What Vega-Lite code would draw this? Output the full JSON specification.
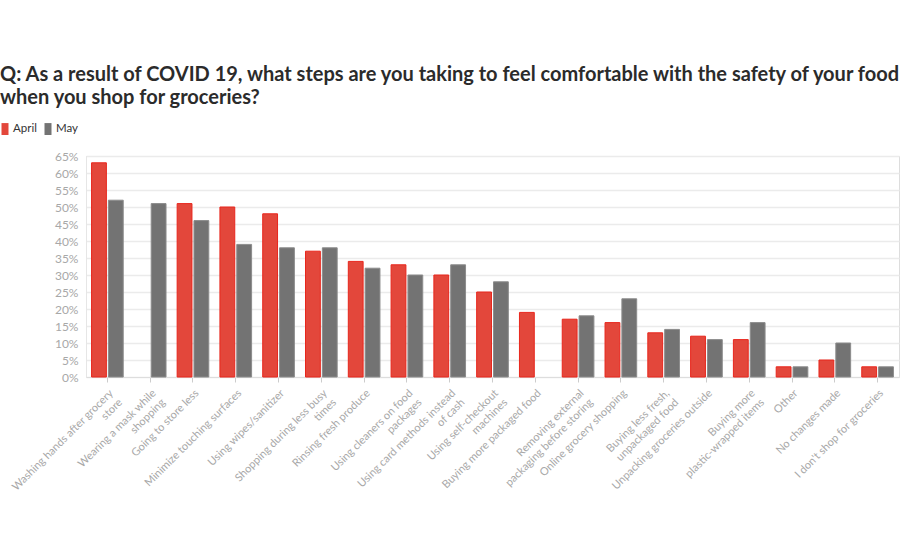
{
  "$schema": "https://vega.github.io/schema/vega-lite/v6.json",
  "width": 813,
  "height": 221,
  "autosize": {"type": "none"},
  "padding": {"left": 86, "top": 156, "right": 1, "bottom": 173},
  "background": "white",
  "title": {
    "text": ["Q: As a result of COVID 19, what steps are you taking to feel comfortable with the safety of your food", "when you shop for groceries?"],
    "anchor": "start",
    "frame": "group",
    "dx": -86,
    "offset": 14,
    "fontSize": 20,
    "font": "Lato",
    "fontWeight": "bold",
    "color": "#2b2b2b",
    "lineHeight": 23
  },
  "data": {
    "values": [
      {"step": "Washing hands after grocery|store", "month": "April", "pct": 63},
      {"step": "Washing hands after grocery|store", "month": "May", "pct": 52},
      {"step": "Wearing a mask while|shopping", "month": "May", "pct": 51},
      {"step": "Going to store less", "month": "April", "pct": 51},
      {"step": "Going to store less", "month": "May", "pct": 46},
      {"step": "Minimize touching surfaces", "month": "April", "pct": 50},
      {"step": "Minimize touching surfaces", "month": "May", "pct": 39},
      {"step": "Using wipes/sanitizer", "month": "April", "pct": 48},
      {"step": "Using wipes/sanitizer", "month": "May", "pct": 38},
      {"step": "Shopping during less busy|times", "month": "April", "pct": 37},
      {"step": "Shopping during less busy|times", "month": "May", "pct": 38},
      {"step": "Rinsing fresh produce", "month": "April", "pct": 34},
      {"step": "Rinsing fresh produce", "month": "May", "pct": 32},
      {"step": "Using cleaners on food|packages", "month": "April", "pct": 33},
      {"step": "Using cleaners on food|packages", "month": "May", "pct": 30},
      {"step": "Using card methods instead|of cash", "month": "April", "pct": 30},
      {"step": "Using card methods instead|of cash", "month": "May", "pct": 33},
      {"step": "Using self-checkout|machines", "month": "April", "pct": 25},
      {"step": "Using self-checkout|machines", "month": "May", "pct": 28},
      {"step": "Buying more packaged food", "month": "April", "pct": 19},
      {"step": "Removing external|packaging before storing", "month": "April", "pct": 17},
      {"step": "Removing external|packaging before storing", "month": "May", "pct": 18},
      {"step": "Online grocery shopping", "month": "April", "pct": 16},
      {"step": "Online grocery shopping", "month": "May", "pct": 23},
      {"step": "Buying less fresh,|unpackaged food", "month": "April", "pct": 13},
      {"step": "Buying less fresh,|unpackaged food", "month": "May", "pct": 14},
      {"step": "Unpacking groceries outside", "month": "April", "pct": 12},
      {"step": "Unpacking groceries outside", "month": "May", "pct": 11},
      {"step": "Buying more|plastic-wrapped items", "month": "April", "pct": 11},
      {"step": "Buying more|plastic-wrapped items", "month": "May", "pct": 16},
      {"step": "Other", "month": "April", "pct": 3},
      {"step": "Other", "month": "May", "pct": 3},
      {"step": "No changes made", "month": "April", "pct": 5},
      {"step": "No changes made", "month": "May", "pct": 10},
      {"step": "I don't shop for groceries", "month": "April", "pct": 3},
      {"step": "I don't shop for groceries", "month": "May", "pct": 3}
    ]
  },
  "mark": {"type": "bar", "strokeWidth": 1},
  "encoding": {
    "x": {
      "field": "step",
      "type": "nominal",
      "sort": null,
      "scale": {"paddingInner": 0.26, "paddingOuter": 0.13},
      "axis": {
        "title": null,
        "labelAngle": -45,
        "labelAlign": "right",
        "labelBaseline": "top",
        "labelExpr": "split(datum.label, '|')",
        "labelColor": "#a8a8a8",
        "labelFontSize": 11,
        "labelLineHeight": 13,
        "labelFont": "Lato",
        "labelLimit": 0,
        "labelPadding": 5,
        "domainColor": "#dddddd",
        "tickColor": "#cccccc",
        "tickSize": 5
      }
    },
    "xOffset": {
      "field": "month",
      "type": "nominal",
      "sort": ["April", "May"],
      "scale": {"paddingInner": 0.12}
    },
    "y": {
      "field": "pct",
      "type": "quantitative",
      "scale": {"domain": [0, 65], "nice": false},
      "axis": {
        "title": null,
        "values": [0, 5, 10, 15, 20, 25, 30, 35, 40, 45, 50, 55, 60, 65],
        "labelExpr": "datum.value + '%'",
        "domainColor": "#e6e6e6",
        "ticks": false,
        "gridColor": "#ebebeb",
        "gridWidth": 1.5,
        "labelColor": "#a8a8a8",
        "labelFontSize": 12,
        "labelFont": "Lato",
        "labelPadding": 8
      }
    },
    "color": {
      "field": "month",
      "type": "nominal",
      "scale": {"domain": ["April", "May"], "range": ["#e3473b", "#737373"]},
      "legend": {
        "title": null,
        "orient": "none",
        "legendX": -88,
        "legendY": -34,
        "direction": "horizontal",
        "padding": 0,
        "symbolType": "M-0.5,-0.85H0.5V0.85H-0.5Z",
        "symbolSize": 196,
        "symbolOpacity": 1,
        "symbolStrokeWidth": 0,
        "labelFontSize": 11.5,
        "labelFont": "Lato",
        "labelColor": "#333333",
        "labelOffset": 1,
        "columnPadding": 4
      }
    },
    "stroke": {
      "field": "month",
      "type": "nominal",
      "scale": {"domain": ["April", "May"], "range": ["#e8261c", "#8c8c8c"]},
      "legend": null
    }
  }
}
